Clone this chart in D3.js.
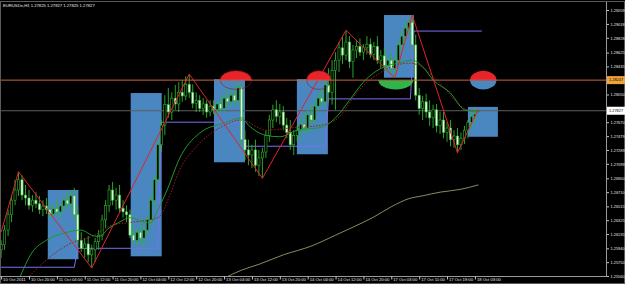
<!DOCTYPE html>
<html>
<head>
<meta charset="utf-8">
<script src="https://cdn.jsdelivr.net/npm/d3@7"></script>
<style>
  html, body { margin: 0; padding: 0; background: #000; overflow: hidden; }
  #chart svg { display: block; }
</style>
</head>
<body>
<div id="chart"></div>
<script>
const width = 625,
height = 284,
plot = { left: 0, right: 606, top: 2, bottom: 276 };

const SYMBOL = 'EURUSDe,H1';

// H1 bars, bar 0 = 10 Oct 2011 12:00
const opens = [
  1.2592, 1.2599, 1.2619, 1.2640, 1.2660, 1.2674, 1.2688, 1.2667, 1.2663, 1.2653,
  1.2660, 1.2655, 1.2647, 1.2652, 1.2647, 1.2641, 1.2648, 1.2644, 1.2652, 1.2660,
  1.2655, 1.2666, 1.2640, 1.2605, 1.2594, 1.2600, 1.2585, 1.2592, 1.2603, 1.2612,
  1.2633, 1.2653, 1.2674, 1.2660, 1.2667, 1.2649, 1.2644, 1.2640, 1.2612, 1.2605,
  1.2616, 1.2608, 1.2619, 1.2633, 1.2660, 1.2688, 1.2736, 1.2763, 1.2791, 1.2781,
  1.2800, 1.2792, 1.2808, 1.2803, 1.2819, 1.2808, 1.2793, 1.2797, 1.2786, 1.2792,
  1.2781, 1.2789, 1.2784, 1.2792, 1.2786, 1.2800, 1.2795, 1.2804, 1.2797, 1.2814,
  1.2743, 1.2729, 1.2722, 1.2729, 1.2708, 1.2718, 1.2726, 1.2749, 1.2770, 1.2784,
  1.2775, 1.2781, 1.2763, 1.2753, 1.2736, 1.2749, 1.2756, 1.2764, 1.2759, 1.2777,
  1.2770, 1.2789, 1.2800, 1.2795, 1.2818, 1.2808, 1.2838, 1.2852, 1.2869, 1.2859,
  1.2877, 1.2850, 1.2866, 1.2871, 1.2863, 1.2869, 1.2874, 1.2860, 1.2871, 1.2852,
  1.2858, 1.2845, 1.2852, 1.2841, 1.2852, 1.2873, 1.2885, 1.2896, 1.2904, 1.2873,
  1.2804, 1.2786, 1.2795, 1.2781, 1.2773, 1.2784, 1.2762, 1.2770, 1.2753, 1.2759,
  1.2743, 1.2748, 1.2736, 1.2745, 1.2756, 1.2767, 1.2775, 1.27825];

const highs = [
  1.2605, 1.2626, 1.2647, 1.2667, 1.2688, 1.2699, 1.2694, 1.2681, 1.2674, 1.2667,
  1.2671, 1.2666, 1.2660, 1.2663, 1.2657, 1.2653, 1.2660, 1.2655, 1.2666, 1.2671,
  1.2674, 1.2677, 1.2653, 1.2616, 1.2608, 1.2611, 1.2599, 1.2608, 1.2619, 1.2640,
  1.2660, 1.2681, 1.2685, 1.2677, 1.2681, 1.2660, 1.2653, 1.2647, 1.2626, 1.2622,
  1.2630, 1.2625, 1.2640, 1.2667, 1.2694, 1.2743, 1.2770, 1.2804, 1.2814, 1.2808,
  1.2818, 1.2822, 1.2825, 1.2830, 1.2833, 1.2819, 1.2808, 1.2804, 1.2800, 1.2797,
  1.2797, 1.2797, 1.2795, 1.2803, 1.2806, 1.2814, 1.2811, 1.2817, 1.2822, 1.2819,
  1.2756, 1.2743, 1.2736, 1.2743, 1.2729, 1.2732, 1.2756, 1.2777, 1.2791, 1.2797,
  1.2792, 1.2789, 1.2773, 1.2770, 1.2756, 1.2762, 1.2773, 1.2781, 1.2784, 1.2792,
  1.2797, 1.2808, 1.2814, 1.2825, 1.2841, 1.2852, 1.2863, 1.2877, 1.2885, 1.2893,
  1.2885, 1.2873, 1.2880, 1.2882, 1.2874, 1.2885, 1.2882, 1.2877, 1.2885, 1.2866,
  1.2869, 1.2859, 1.2863, 1.2858, 1.2880, 1.2893, 1.2904, 1.2910, 1.2914, 1.2887,
  1.2814, 1.2803, 1.2806, 1.2797, 1.2791, 1.2792, 1.2781, 1.2781, 1.2767, 1.2770,
  1.2756, 1.2759, 1.2753, 1.2762, 1.2770, 1.2781, 1.2786, 1.27827];

const lows = [
  1.2581, 1.2592, 1.2611, 1.2630, 1.2653, 1.2666, 1.2660, 1.2653, 1.2647, 1.2644,
  1.2649, 1.2641, 1.2638, 1.2641, 1.2636, 1.2633, 1.2638, 1.2636, 1.2644, 1.2649,
  1.2647, 1.2633, 1.2599, 1.2589, 1.2581, 1.2575, 1.2567, 1.2575, 1.2592, 1.2605,
  1.2622, 1.2644, 1.2653, 1.2647, 1.2644, 1.2636, 1.2630, 1.2608, 1.2599, 1.2597,
  1.2600, 1.2594, 1.2611, 1.2625, 1.2652, 1.2681, 1.2726, 1.2749, 1.2773, 1.2770,
  1.2784, 1.2781, 1.2795, 1.2797, 1.2800, 1.2786, 1.2781, 1.2781, 1.2777, 1.2773,
  1.2775, 1.2778, 1.2775, 1.2781, 1.2781, 1.2789, 1.2786, 1.2792, 1.2789, 1.2736,
  1.2715, 1.2708, 1.2704, 1.2699, 1.2693, 1.2690, 1.2718, 1.2740, 1.2759, 1.2767,
  1.2764, 1.2756, 1.2745, 1.2729, 1.2722, 1.2740, 1.2745, 1.2753, 1.2751, 1.2764,
  1.2762, 1.2781, 1.2789, 1.2786, 1.2797, 1.2791, 1.2784, 1.2836, 1.2847, 1.2852,
  1.2841, 1.2828, 1.2855, 1.2858, 1.2852, 1.2860, 1.2855, 1.2852, 1.2847, 1.2841,
  1.2838, 1.2836, 1.2833, 1.2828, 1.2847, 1.2863, 1.2877, 1.2888, 1.2866, 1.2797,
  1.2777, 1.2770, 1.2773, 1.2762, 1.2759, 1.2753, 1.2751, 1.2745, 1.2740, 1.2734,
  1.2732, 1.2725, 1.2729, 1.2737, 1.2745, 1.2759, 1.2764, 1.27825];

const closes = [
  1.2599, 1.2619, 1.2640, 1.2660, 1.2674, 1.2688, 1.2667, 1.2663, 1.2653, 1.2660,
  1.2655, 1.2647, 1.2652, 1.2647, 1.2641, 1.2648, 1.2644, 1.2652, 1.2660, 1.2655,
  1.2666, 1.2640, 1.2605, 1.2594, 1.2600, 1.2585, 1.2592, 1.2603, 1.2612, 1.2633,
  1.2653, 1.2674, 1.2660, 1.2667, 1.2649, 1.2644, 1.2640, 1.2612, 1.2605, 1.2616,
  1.2608, 1.2619, 1.2633, 1.2660, 1.2688, 1.2736, 1.2763, 1.2791, 1.2781, 1.2800,
  1.2792, 1.2808, 1.2803, 1.2819, 1.2808, 1.2793, 1.2797, 1.2786, 1.2792, 1.2781,
  1.2789, 1.2784, 1.2792, 1.2786, 1.2800, 1.2795, 1.2804, 1.2797, 1.2814, 1.2743,
  1.2729, 1.2722, 1.2729, 1.2708, 1.2718, 1.2726, 1.2749, 1.2770, 1.2784, 1.2775,
  1.2781, 1.2763, 1.2753, 1.2736, 1.2749, 1.2756, 1.2764, 1.2759, 1.2777, 1.2770,
  1.2789, 1.2800, 1.2795, 1.2818, 1.2808, 1.2838, 1.2852, 1.2869, 1.2859, 1.2877,
  1.2850, 1.2866, 1.2871, 1.2863, 1.2869, 1.2874, 1.2860, 1.2871, 1.2852, 1.2858,
  1.2845, 1.2852, 1.2841, 1.2852, 1.2873, 1.2885, 1.2896, 1.2904, 1.2873, 1.2804,
  1.2786, 1.2795, 1.2781, 1.2773, 1.2784, 1.2762, 1.2770, 1.2753, 1.2759, 1.2743,
  1.2748, 1.2736, 1.2745, 1.2756, 1.2767, 1.2775, 1.2778, 1.27827];

// moving averages, read at a few bars
const fastMaBars = [5, 9, 13, 19, 23, 26, 28, 31, 34, 37, 41, 43, 45, 48, 51, 57, 64, 69, 71, 76, 80, 85, 92, 96, 100, 104, 110, 114, 118, 121, 124, 129, 133, 137];
const fastMa = [1.2550, 1.2589, 1.2605, 1.2616, 1.2619, 1.2612, 1.2610, 1.2622, 1.2630, 1.2636, 1.2630, 1.2629, 1.2647, 1.2678, 1.2715, 1.2752, 1.2766, 1.2773, 1.2763, 1.2749, 1.2747, 1.2756, 1.2760, 1.2773, 1.2797, 1.2822, 1.2843, 1.2848, 1.2852, 1.2843, 1.2825, 1.2807, 1.2784, 1.2781];

const slowMaBars = [7, 14, 21, 26, 32, 38, 45, 49, 51, 56, 63, 69, 76, 83, 92, 97, 102, 110, 117, 120, 125, 133, 137];
const slowMa = [1.2550, 1.2582, 1.2603, 1.2610, 1.2626, 1.2630, 1.2636, 1.2674, 1.2699, 1.2733, 1.2760, 1.2770, 1.2756, 1.2759, 1.2763, 1.2774, 1.2807, 1.2838, 1.2848, 1.2845, 1.2825, 1.2786, 1.2781];

const longMaBars = [64, 69, 74, 81, 89, 96, 101, 107, 112, 117, 121, 126, 132, 137];
const longMa = [1.2553, 1.2564, 1.2572, 1.2585, 1.2597, 1.2612, 1.2623, 1.2637, 1.2651, 1.2662, 1.2666, 1.2671, 1.2675, 1.2681];

// zigzag turning points
const zigBars = [0, 5, 26, 54, 75, 99, 113, 118, 131, 137];
const zigPrices = [1.2616, 1.2699, 1.2567, 1.2833, 1.2690, 1.2893, 1.2828, 1.2914, 1.2725, 1.2785];

// daily boxes
const boxStarts = [13.4, 37.2, 61.1, 84.9, 109.9, 134];
const boxEnds = [22.2, 46.1, 70, 93.8, 118.5, 142.6];
const boxTops = [1.2674, 1.2807, 1.2826, 1.2826, 1.2914, 1.2788];
const boxBottoms = [1.2579, 1.2583, 1.2712, 1.2723, 1.2828, 1.2747];

// stepped daily level
const stepBars = [0, 22, 46, 70, 94, 118.5];
const stepLevels = [1.2568, 1.2594, 1.2767, 1.2734, 1.2799, 1.2892];
const stepEnd = 138;

// marks on the horizontal level
const levelPrice = 1.28247;
const markBars = [67.4, 91.2, 113.3, 138.4];
const markHalfBars = [4.5, 3.5, 5, 3.8];
const markKinds = ['top', 'top', 'bottom', 'both'];

const priceTicks = [1.25560, 1.25750, 1.25940, 1.26135, 1.26325, 1.26515, 1.26710, 1.26900, 1.27099, 1.27289,
  1.27479, 1.27670, 1.27860, 1.28050, 1.28247, 1.28435, 1.28625, 1.28828, 1.29018, 1.29209];

const timeTicks = [0, 8, 16, 24, 32, 40, 48, 56, 64, 72, 80, 88, 96, 104, 112, 120, 128, 136];
const timeLabels = ['10 Oct 2011', '10 Oct 20:00', '11 Oct 04:00', '11 Oct 12:00', '11 Oct 20:00', '12 Oct 04:00',
  '12 Oct 12:00', '12 Oct 20:00', '13 Oct 04:00', '13 Oct 12:00', '13 Oct 20:00', '14 Oct 04:00',
  '14 Oct 12:00', '14 Oct 20:00', '17 Oct 03:00', '17 Oct 11:00', '17 Oct 19:00', '18 Oct 03:00'];

const fmt = d3.format('.5f');
const last = closes.length - 1;

const svg = d3.select('#chart').
append('svg').
attr('width', width).
attr('height', height).
style('background', '#000').
style('font-family', "'Liberation Sans', Arial, sans-serif");

const x = d3.scaleLinear().domain([0, 136]).range([1.1, 474.9]);
const y = d3.scaleLinear().domain([1.25560, 1.29209]).range([276, 10]);

svg.append('clipPath').
attr('id', 'plot-clip').
append('rect').
attr('x', plot.left).
attr('y', plot.top).
attr('width', plot.right - plot.left).
attr('height', plot.bottom - plot.top);

const chart = svg.append('g').attr('clip-path', 'url(#plot-clip)');

// boxes
chart.selectAll('rect.box').
data(boxStarts).
enter().
append('rect').
attr('class', 'box').
attr('x', d => x(d)).
attr('width', (d, i) => x(boxEnds[i]) - x(d)).
attr('y', (d, i) => y(boxTops[i])).
attr('height', (d, i) => y(boxBottoms[i]) - y(boxTops[i])).
attr('fill', '#4a86c0');

// bid line
chart.append('line').
attr('x1', plot.left).attr('x2', plot.right).
attr('y1', y(closes[last])).attr('y2', y(closes[last])).
attr('stroke', '#5e5e5e').attr('stroke-width', 1);

// long MA
const maLine = d3.line().x(d => x(d[0])).y(d => y(d[1])).curve(d3.curveMonotoneX);
chart.append('path').
attr('d', maLine(d3.zip(longMaBars, longMa))).
attr('fill', 'none').attr('stroke', '#b5ab78').attr('stroke-width', 0.8);

// stepped level
const stepPts = [];
stepBars.forEach((b, i) => {
  const end = i < stepBars.length - 1 ? stepBars[i + 1] - 1 : stepEnd;
  stepPts.push([b, stepLevels[i]], [end, stepLevels[i]]);
});
chart.append('path').
attr('d', d3.line().x(d => x(d[0])).y(d => y(d[1]))(stepPts)).
attr('fill', 'none').attr('stroke', '#7a70f0').attr('stroke-width', 1);

// candles
const candle = chart.selectAll('g.candle').
data(d3.range(opens.length)).
enter().
append('g').
attr('class', 'candle');

candle.append('line').
attr('x1', i => x(i)).attr('x2', i => x(i)).
attr('y1', i => y(highs[i])).attr('y2', i => y(lows[i])).
attr('stroke', '#2fb52f').attr('stroke-width', 0.9);

candle.append('rect').
attr('x', i => x(i) - 1.1).
attr('width', 2.2).
attr('y', i => y(Math.max(opens[i], closes[i]))).
attr('height', i => Math.max(0.6, Math.abs(y(opens[i]) - y(closes[i])))).
attr('fill', i => closes[i] >= opens[i] ? '#000' : '#e4f7e4').
attr('stroke', '#2fb52f').attr('stroke-width', 0.6);

// MAs
chart.append('path').
attr('d', maLine(d3.zip(slowMaBars, slowMa))).
attr('fill', 'none').attr('stroke', '#9c1c1c').attr('stroke-width', 1).attr('stroke-dasharray', '1.5,1.5');

chart.append('path').
attr('d', maLine(d3.zip(fastMaBars, fastMa))).
attr('fill', 'none').attr('stroke', '#1f9a2a').attr('stroke-width', 1);

// zigzag
chart.append('path').
attr('d', d3.line().x(d => x(d[0])).y(d => y(d[1]))(d3.zip(zigBars, zigPrices))).
attr('fill', 'none').attr('stroke', '#e0232b').attr('stroke-width', 1);

// half ellipses on the level
const markColor = { top: '#e8232a', bottom: '#2fb54a' };
const ly = y(levelPrice);
markBars.forEach((b, i) => {
  const cx = x(b), rx = x(b + markHalfBars[i]) - x(b), ry = 9.3;
  const kind = markKinds[i];
  const g = chart.append('g');
  const upper = `M${cx - rx},${ly}A${rx},${ry} 0 0 1 ${cx + rx},${ly}Z`;
  const lower = `M${cx - rx},${ly}A${rx},${ry} 0 0 0 ${cx + rx},${ly}Z`;
  if (kind === 'top' || kind === 'both') g.append('path').attr('d', upper).attr('fill', markColor.top);
  if (kind === 'bottom') g.append('path').attr('d', lower).attr('fill', markColor.bottom);
  if (kind === 'both') g.append('path').attr('d', lower).attr('fill', '#4a86c0');
  if (kind === 'top') {
    g.append('ellipse').attr('cx', cx).attr('cy', ly).attr('rx', rx).attr('ry', ry).
    attr('fill', 'none').attr('stroke', '#a01818').attr('stroke-width', 0.6);
  }
});

// level line
chart.append('line').
attr('x1', plot.left).attr('x2', plot.right).
attr('y1', ly).attr('y2', ly).
attr('stroke', '#c8643c').attr('stroke-width', 1);

// frame
svg.append('rect').
attr('x', 0.5).attr('y', 1.5).
attr('width', width - 1).attr('height', height - 2).
attr('fill', 'none').attr('stroke', '#5a5a5a').attr('stroke-width', 1);
svg.append('line').
attr('x1', plot.right + 0.5).attr('x2', plot.right + 0.5).
attr('y1', plot.top).attr('y2', plot.bottom).
attr('stroke', '#9a9a9a');
svg.append('line').
attr('x1', 0).attr('x2', plot.right + 1).
attr('y1', plot.bottom + 0.5).attr('y2', plot.bottom + 0.5).
attr('stroke', '#9a9a9a');

// price labels on the scale
const tags = [[levelPrice, '#f0a23c'], [closes[last], '#ffffff']];

const yAxis = svg.append('g').
attr('transform', `translate(${plot.right + 1},0)`).
call(d3.axisRight(y).tickValues(priceTicks).tickSize(2).tickPadding(1.5).tickFormat(fmt));
yAxis.select('.domain').remove();
yAxis.selectAll('line').attr('stroke', '#c8c8c8');
yAxis.selectAll('text').attr('fill', '#e8e8e8').style('font-size', '3.9px');
// labels under the price tags are hidden, as on the terminal
yAxis.selectAll('.tick').
filter(d => tags.some(t => Math.abs(y(t[0]) - y(d)) < 6)).
select('text').
remove();

// time scale
const xAxis = svg.append('g').
attr('transform', `translate(0,${plot.bottom + 0.5})`).
call(d3.axisBottom(x).tickValues(timeTicks).tickSize(3).tickFormat((d, i) => timeLabels[i]));
xAxis.select('.domain').remove();
xAxis.selectAll('line').attr('stroke', '#c8c8c8');
xAxis.selectAll('text').
attr('fill', '#e8e8e8').
attr('text-anchor', 'start').
attr('x', 1.5).
attr('y', 1.2).
attr('dy', '0.71em').
style('font-size', '4.2px');

tags.forEach(t => {
  svg.append('rect').
  attr('x', plot.right + 1).attr('y', y(t[0]) - 4).
  attr('width', width - plot.right - 1).attr('height', 8).
  attr('fill', t[1]);
  svg.append('text').
  attr('x', plot.right + 3).attr('y', y(t[0])).
  attr('dy', '0.35em').
  attr('fill', '#000').
  style('font-size', '3.9px').
  text(fmt(t[0]));
});

// header
svg.append('text').
attr('x', 3).attr('y', 7).
attr('fill', '#e8e8e8').
style('font-size', '4.2px').
text(`${SYMBOL}  ${fmt(opens[last])} ${fmt(highs[last])} ${fmt(lows[last])} ${fmt(closes[last])}`);
</script>
</body>
</html>
